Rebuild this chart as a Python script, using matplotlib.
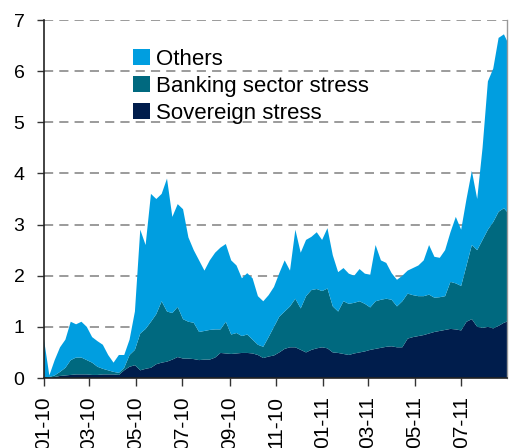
import matplotlib
matplotlib.use("Agg")
import matplotlib.pyplot as plt
import matplotlib.dates as mdates
import pandas as pd

plt.rcParams["font.family"] = ["Liberation Sans", "DejaVu Sans"]

# Weekly observations, Jan 2010 - Aug 2011
start_date = "2010-01-01"
end_date = "2011-08-30"
n_weeks = 88

sovereign = [0.00, 0.00, 0.02, 0.04, 0.05, 0.06, 0.07, 0.07, 0.07, 0.06,
             0.06, 0.07, 0.07, 0.07, 0.06, 0.15, 0.22, 0.25, 0.15, 0.18,
             0.20, 0.27, 0.30, 0.32, 0.36, 0.41, 0.38, 0.38, 0.37, 0.35,
             0.36, 0.36, 0.40, 0.49, 0.48, 0.47, 0.48, 0.49, 0.49, 0.48,
             0.45, 0.39, 0.42, 0.44, 0.50, 0.57, 0.60, 0.60, 0.55, 0.50,
             0.55, 0.58, 0.60, 0.58, 0.50, 0.49, 0.47, 0.45, 0.48, 0.50,
             0.52, 0.55, 0.57, 0.59, 0.61, 0.62, 0.60, 0.60, 0.77, 0.80,
             0.82, 0.84, 0.87, 0.90, 0.92, 0.94, 0.96, 0.95, 0.93, 1.10,
             1.15, 1.00, 0.98, 1.00, 0.97, 1.02, 1.08, 1.12]

banking = [0.02, 0.02, 0.03, 0.08, 0.15, 0.29, 0.33, 0.33, 0.28, 0.24,
           0.16, 0.11, 0.08, 0.05, 0.04, 0.05, 0.23, 0.30, 0.72, 0.78,
           0.90, 0.98, 1.20, 0.98, 0.91, 0.98, 0.77, 0.72, 0.71, 0.55,
           0.56, 0.58, 0.55, 0.46, 0.62, 0.38, 0.40, 0.33, 0.36, 0.27,
           0.20, 0.22, 0.38, 0.56, 0.70, 0.73, 0.80, 0.95, 0.81, 1.10,
           1.17, 1.16, 1.10, 1.17, 0.90, 0.81, 1.03, 1.00, 0.99, 1.00,
           0.93, 0.83, 0.93, 0.94, 0.94, 0.91, 0.80, 0.90, 0.88, 0.82,
           0.78, 0.76, 0.76, 0.67, 0.66, 0.66, 0.92, 0.90, 0.87, 1.10,
           1.45, 1.50, 1.72, 1.90, 2.08, 2.23, 2.24, 2.08]

others = [0.73, 0.03, 0.30, 0.48, 0.55, 0.75, 0.65, 0.70, 0.65, 0.50,
          0.50, 0.47, 0.30, 0.18, 0.35, 0.25, 0.30, 0.75, 2.03, 1.64,
          2.50, 2.25, 2.10, 2.60, 1.88, 2.01, 2.15, 1.65, 1.42, 1.40,
          1.18, 1.36, 1.50, 1.60, 1.52, 1.45, 1.32, 1.13, 1.20, 1.20,
          0.95, 0.89, 0.82, 0.78, 0.85, 1.00, 0.70, 1.35, 1.09, 1.10,
          1.04, 1.11, 1.00, 1.18, 1.00, 0.77, 0.65, 0.59, 0.53, 0.63,
          0.59, 0.64, 1.10, 0.77, 0.70, 0.52, 0.52, 0.50, 0.45, 0.53,
          0.60, 0.70, 0.97, 0.80, 0.77, 0.90, 0.97, 1.30, 1.10, 1.30,
          1.45, 1.00, 1.80, 2.90, 3.00, 3.40, 3.40, 3.30]

series_labels = ["Sovereign stress", "Banking sector stress", "Others"]
colors = ["#001D4C", "#00697F", "#009EE0"]

y_ticks = [0, 1, 2, 3, 4, 5, 6, 7]

dates = pd.date_range(start_date, periods=n_weeks, freq="7D")

fig = plt.figure(figsize=(5.12, 4.48), dpi=100)
ax = fig.add_axes([44 / 512, 1 - 378 / 448, 463 / 512, 358 / 448])

ax.stackplot(dates, sovereign, banking, others, colors=colors,
             labels=series_labels, linewidth=0, zorder=2)

ax.set_xlim(pd.Timestamp(start_date), pd.Timestamp(end_date))
ax.set_ylim(0, 7)
ax.set_yticks(y_ticks)

for y in y_ticks[1:]:
    ax.axhline(y, color="#808080", linestyle=(0, (6, 4)), linewidth=1.1, zorder=1)

ax.xaxis.set_major_locator(mdates.MonthLocator(bymonth=[1, 3, 5, 7, 9, 11]))
ax.xaxis.set_major_formatter(mdates.DateFormatter("%m-%y"))
for lbl in ax.get_xticklabels():
    lbl.set_rotation(90)
    lbl.set_va("top")
    lbl.set_ha("center")

ax.tick_params(axis="x", direction="out", length=6, width=1, pad=7,
               labelsize=15, color="#333333")
ax.tick_params(axis="y", direction="out", length=5, width=1, pad=9,
               labelsize=14, color="#333333")

for side in ("left", "bottom"):
    ax.spines[side].set_color("#222222")
    ax.spines[side].set_linewidth(1.2)
ax.spines["top"].set_visible(False)
ax.spines["right"].set_color("#999999")
ax.spines["right"].set_linewidth(1.0)

handles, labels = ax.get_legend_handles_labels()
leg = fig.legend(handles[::-1], labels[::-1], loc="upper left",
                 bbox_to_anchor=(133 / 512, 1 - 49 / 448), frameon=False,
                 fontsize=16, borderpad=0, borderaxespad=0,
                 handlelength=0.75, handleheight=0.75, handletextpad=0.3,
                 labelspacing=0.27)

fig.savefig("out.png", dpi=100)
